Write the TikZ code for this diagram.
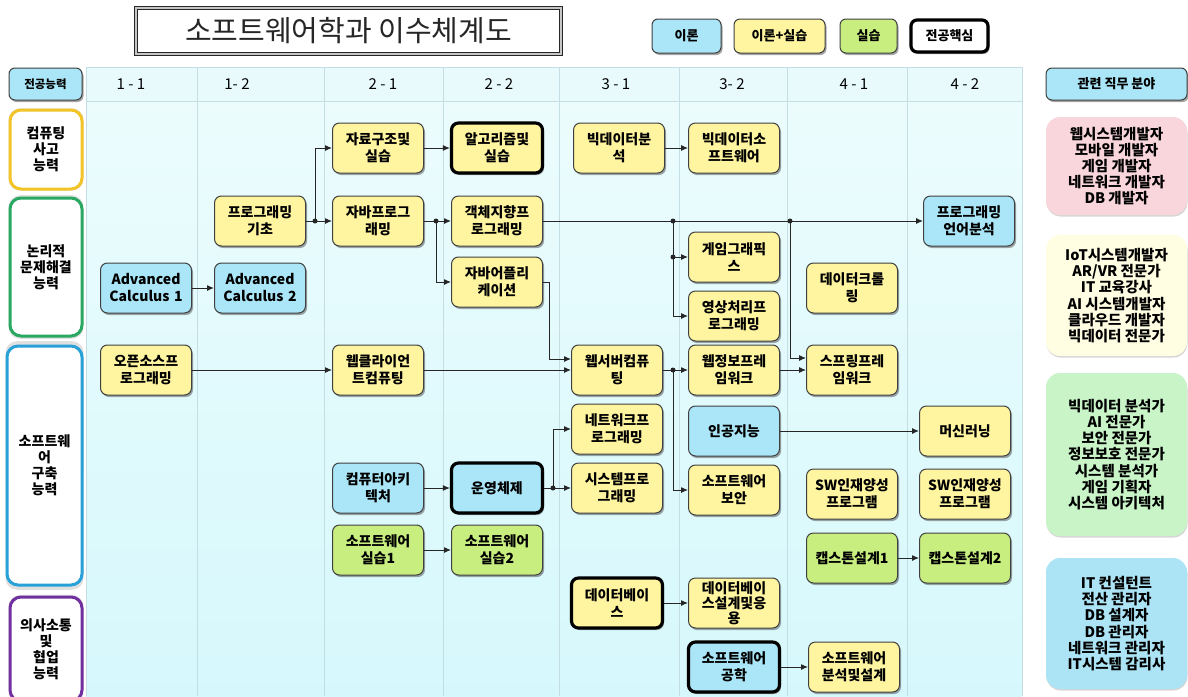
\documentclass[tikz,border=0pt]{standalone}
\usepackage{fontspec}
\setmainfont{Noto Sans CJK KR}
\usetikzlibrary{arrows.meta,positioning,calc,shadows}

\definecolor{theoryblue}{RGB}{170,230,247}
\definecolor{mixyellow}{RGB}{255,245,160}
\definecolor{labgreen}{RGB}{200,238,128}
\definecolor{gridline}{RGB}{196,222,228}
\definecolor{gridtop}{RGB}{236,252,253}
\definecolor{gridbottom}{RGB}{214,248,252}
\definecolor{gridhead}{RGB}{232,250,252}
\definecolor{jobpink}{RGB}{248,214,220}
\definecolor{jobyellow}{RGB}{255,253,226}
\definecolor{jobgreen}{RGB}{200,244,200}
\definecolor{jobblue}{RGB}{172,228,246}
\definecolor{compgold}{RGB}{242,196,40}
\definecolor{logicgreen}{RGB}{40,168,96}
\definecolor{buildblue}{RGB}{40,160,216}
\definecolor{commpurple}{RGB}{112,48,160}

\tikzstyle{course}=[draw=black!75,rounded corners=7pt,line width=1pt,minimum width=91pt,minimum height=50pt,text width=88pt,align=center,inner sep=1pt,font=\bfseries\fontsize{14}{17}\selectfont,drop shadow={shadow xshift=1.5pt,shadow yshift=-2pt,fill=black!70,opacity=0.5}]
\tikzstyle{theory}=[course,fill=theoryblue]
\tikzstyle{mixed}=[course,fill=mixyellow]
\tikzstyle{lab}=[course,fill=labgreen]
\tikzstyle{core}=[draw=black,line width=3.2pt]
\tikzstyle{ability}=[draw,fill=white,rounded corners=11pt,line width=3pt,minimum width=72pt,align=center,font=\bfseries\fontsize{14}{16}\selectfont,drop shadow={shadow xshift=0pt,shadow yshift=0pt,shadow scale=1.04,fill=black!30,opacity=0.4}]
\tikzstyle{jobs}=[rounded corners=14pt,minimum width=141pt,align=center,font=\bfseries\fontsize{14.5}{16.2}\selectfont,drop shadow={shadow xshift=0.5pt,shadow yshift=-1.5pt,fill=black!40,opacity=0.4}]
\tikzstyle{legend}=[draw=black!75,rounded corners=6pt,line width=1pt,minimum height=34pt,font=\bfseries\fontsize{13}{15}\selectfont,drop shadow={shadow xshift=1.5pt,shadow yshift=-2pt,fill=black!70,opacity=0.5}]
\tikzstyle{semester}=[font=\fontsize{15}{18}\selectfont]
\tikzstyle{link}=[draw=black!85,line width=1pt,-{Latex[length=7pt,width=6pt]}]
\tikzstyle{wire}=[draw=black!85,line width=1pt]
\tikzstyle{junction}=[fill=black!85,circle,inner sep=0pt,minimum size=5pt]

\begin{document}
\begin{tikzpicture}[x=1pt,y=-1pt]
    \useasboundingbox (0,0) rectangle (1188,696);
    \fill[white] (0,0) rectangle (1188,696);

    % grid
    \shade[top color=gridtop,bottom color=gridbottom] (86,101) rectangle (1022,696);
    \fill[gridhead] (86,67) rectangle (1022,101);
    \draw[gridline] (86,67) -- (1022,67) (86,101) -- (1022,101);
    \foreach \x in {86,197,324,443,559,679,787,907,1022}
      \draw[gridline] (\x,67) -- (\x,696);
    \foreach \x/\t in {131/{1 - 1},237/{1- 2},383/{2 - 1},499/{2 - 2},616/{3 - 1},732/{3- 2},854/{4 - 1},965/{4 - 2}}
      \node[semester] at (\x,84) {\t};

    % title and legend
    \node[draw=black!85,double=gray!45,double distance=2pt,line width=1pt,fill=white,minimum width=425pt,minimum height=46pt,font=\fontsize{29}{32}\selectfont,text=black!85] (title) at (348.5,31) {소프트웨어학과 이수체계도};
    \node[legend,fill=theoryblue,minimum width=69pt] (lgtheory) at (686.5,36) {이론};
    \node[legend,fill=mixyellow,minimum width=91pt] (lgmixed) at (779.5,36) {이론+실습};
    \node[legend,fill=labgreen,minimum width=57pt] (lglab) at (868.5,36) {실습};
    \node[legend,fill=white,core,minimum width=77pt,minimum height=32pt] (lgcore) at (949.5,36) {전공핵심};

    % abilities
    \node[legend,fill=theoryblue,minimum width=73pt,minimum height=32pt,font=\bfseries\fontsize{11.5}{13}\selectfont] (abilityhead) at (45.5,84) {전공능력};
    \node[ability,draw=compgold,minimum height=79pt] (comp) at (46,149.5) {컴퓨팅\\사고\\능력};
    \node[ability,draw=logicgreen,minimum height=138pt] (logic) at (46,267) {논리적\\문제해결\\능력};
    \node[ability,draw=buildblue,minimum height=239pt,minimum width=75pt] (build) at (44.5,465.5) {소프트웨\\어\\구축\\능력};
    \node[ability,draw=commpurple,minimum height=104pt] (comm) at (46,649) {의사소통\\및\\협업\\능력};

    % courses
    \node[theory] (ac1) at (146,288) {Advanced\\Calculus 1};
    \node[mixed] (oss) at (146,370) {오픈소스프\\로그래밍};
    \node[mixed] (progbasic) at (260,221) {프로그래밍\\기초};
    \node[theory] (ac2) at (260,288) {Advanced\\Calculus 2};
    \node[mixed] (ds) at (378,148) {자료구조및\\실습};
    \node[mixed] (java) at (378,221) {자바프로그\\래밍};
    \node[mixed] (webclient) at (378,370) {웹클라이언\\트컴퓨팅};
    \node[theory] (arch) at (378,488) {컴퓨터아키\\텍처};
    \node[lab] (swlab1) at (378,550) {소프트웨어\\실습1};
    \node[mixed,core] (algo) at (497,148) {알고리즘및\\실습};
    \node[mixed] (oop) at (497,221) {객체지향프\\로그래밍};
    \node[mixed] (javaapp) at (497,282) {자바어플리\\케이션};
    \node[theory,core] (os) at (497,488) {운영체제};
    \node[lab] (swlab2) at (497,550) {소프트웨어\\실습2};
    \node[mixed] (bigdata) at (619,148) {빅데이터분\\석};
    \node[mixed] (webserver) at (617,370) {웹서버컴퓨\\팅};
    \node[mixed] (netprog) at (617,429) {네트워크프\\로그래밍};
    \node[mixed] (sysprog) at (617,488) {시스템프로\\그래밍};
    \node[mixed,core] (db) at (617,603) {데이터베이\\스};
    \node[mixed] (bigdatasw) at (734,148) {빅데이터소\\프트웨어};
    \node[mixed] (game) at (734,257) {게임그래픽\\스};
    \node[mixed] (image) at (734,316) {영상처리프\\로그래밍};
    \node[mixed] (webfw) at (734,370) {웹정보프레\\임워크};
    \node[theory] (ai) at (734,431) {인공지능};
    \node[mixed] (swsec) at (734,490) {소프트웨어\\보안};
    \node[mixed,font=\bfseries\fontsize{14}{15}\selectfont] (dbdesign) at (734,603) {데이터베이\\스설계및응\\용};
    \node[theory,core] (se) at (734,667) {소프트웨어\\공학};
    \node[mixed] (crawl) at (852,288) {데이터크롤\\링};
    \node[mixed] (spring) at (852,370) {스프링프레\\임워크};
    \node[mixed] (swtal1) at (852,494) {SW인재양성\\프로그램};
    \node[lab] (cap1) at (852,558) {캡스톤설계1};
    \node[mixed] (swad) at (854,667) {소프트웨어\\분석및설계};
    \node[theory] (plang) at (969,221) {프로그래밍\\언어분석};
    \node[mixed] (ml) at (965,431) {머신러닝};
    \node[mixed] (swtal2) at (965,494) {SW인재양성\\프로그램};
    \node[lab] (cap2) at (965,558) {캡스톤설계2};

    % jobs
    \node[legend,fill=theoryblue,minimum width=141pt,minimum height=32pt] (jobhead) at (1116.5,84) {관련 직무 분야};
    \node[jobs,fill=jobpink,minimum height=98pt] (job1) at (1116.5,166) {웹시스템개발자\\모바일 개발자\\게임 개발자\\네트워크 개발자\\DB 개발자};
    \node[jobs,fill=jobyellow,minimum height=121pt] (job2) at (1116.5,295.5) {IoT시스템개발자\\AR/VR 전문가\\IT 교육강사\\AI 시스템개발자\\클라우드 개발자\\빅데이터 전문가};
    \node[jobs,fill=jobgreen,minimum height=163pt] (job3) at (1116.5,454.5) {빅데이터 분석가\\AI 전문가\\보안 전문가\\정보보호 전문가\\시스템 분석가\\게임 기획자\\시스템 아키텍처};
    \node[jobs,fill=jobblue,minimum height=131pt] (job4) at (1116.5,623.5) {IT 컨설턴트\\전산 관리자\\DB 설계자\\DB 관리자\\네트워크 관리자\\IT시스템 감리사};

    % branch points
    \coordinate (jbasic) at (315,221);
    \coordinate (jjava) at (436,221);
    \coordinate (japp) at (549,282);
    \coordinate (jos) at (553,488);
    \coordinate (joop1) at (673,221);
    \coordinate (jgame) at (673,257);
    \coordinate (joop2) at (790,221);
    \coordinate (jweb) at (673,370);

    % prerequisites
    \draw[link] (ac1) -- (ac2);
    \draw[wire] (progbasic) -- (jbasic);
    \draw[link] (jbasic) |- (ds.west);
    \draw[link] (jbasic) -- (java);
    \draw[link] (ds) -- (algo);
    \draw[wire] (java) -- (jjava);
    \draw[link] (jjava) -- (oop);
    \draw[link] (jjava) |- (javaapp.west);
    \draw[link] (oop) -- (plang);
    \draw[link] (jgame) -- (game.west);
    \draw[link] (joop1) |- (image.west);
    \draw[link] (joop2) |- ([yshift=12pt]spring.west);
    \draw[link] (javaapp.east) -- (japp) |- ([yshift=11pt]webserver.west);
    \draw[link] (oss) -- (webclient);
    \draw[link] (webclient) -- (webserver);
    \draw[wire] (webserver) -- (jweb);
    \draw[link] (jweb) -- (webfw);
    \draw[link] (jweb) |- (swsec.west);
    \draw[link] (webfw) -- (spring);
    \draw[link] (ai) -- (ml);
    \draw[link] (arch) -- (os);
    \draw[wire] (os) -- (jos);
    \draw[link] (jos) -- (sysprog);
    \draw[link] (jos) |- (netprog.west);
    \draw[link] (swlab1) -- (swlab2);
    \draw[link] (db) -- (dbdesign);
    \draw[link] (se) -- (swad);
    \draw[link] (cap1) -- (cap2);
    \draw[link] (bigdata) -- (bigdatasw);
    \foreach \j in {jbasic,jjava,jos,joop1,jgame,joop2,jweb}
      \node[junction] at (\j) {};
\end{tikzpicture}
\end{document}
